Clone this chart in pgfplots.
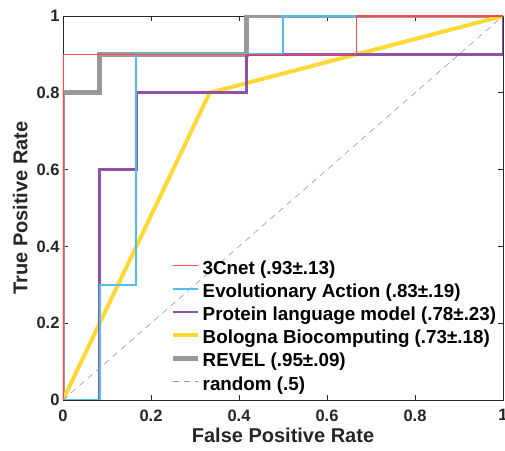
\documentclass[border=0pt]{standalone}
\usepackage{pgfplots}
\pgfplotsset{compat=1.18}
\usetikzlibrary{calc}
\usepackage{fontspec}
\setmainfont{Liberation Sans}
\definecolor{cred}{HTML}{FF4A4A}
\definecolor{ccyan}{HTML}{4DBEEE}
\definecolor{cpurple}{HTML}{9251A6}
\definecolor{cyellow}{HTML}{FFD835}
\definecolor{cgray}{HTML}{999999}
\definecolor{caxis}{HTML}{262626}

\begin{document}
\begin{tikzpicture}
\begin{axis}[
  name=ax,
  scale only axis, width=440pt, height=384pt,
  xmin=0, xmax=1, ymin=0, ymax=1,
  xtick={0,0.2,0.4,0.6,0.8,1}, ytick={0,0.2,0.4,0.6,0.8,1},
  xticklabels={0,0.2,0.4,0.6,0.8,1}, yticklabels={0,0.2,0.4,0.6,0.8,1},
  tick align=inside, major tick length=5pt,
  axis line style={caxis, line width=0.6pt},
  tick style={caxis, line width=0.6pt},
  tick label style={font=\fontsize{16.5}{19}\selectfont\bfseries, text=caxis},
  xticklabel style={yshift=-6pt},
  xlabel={False Positive Rate}, ylabel={True Positive Rate},
  label style={font=\fontsize{20}{22}\selectfont\bfseries, text=caxis},
  xlabel style={yshift=0pt}, ylabel style={yshift=2pt},
  legend cell align=left,
  legend style={draw=none, fill=none, at={(0.243,0.365)}, anchor=north west,
    font=\fontsize{18.8}{22}\selectfont\bfseries, row sep=0pt,
    inner sep=0pt, nodes={inner sep=0pt, text height=14pt, text depth=9.2pt},
    /tikz/every odd column/.append style={column sep=2.6pt}},
  legend image code/.code={\draw[#1] (0pt,6pt) -- (25pt,6pt);},
  clip=true,
]
% drawn bottom to top so that 3Cnet lies over the others
\addplot[cgray, line width=5pt, forget plot] coordinates {
  (0,0) (0,0.8) (0.0833,0.8) (0.0833,0.9) (0.4167,0.9) (0.4167,1) (1,1)};
\addplot[cyellow, line width=4pt, forget plot] coordinates {
  (0,0) (0.3333,0.8) (1,1)};
\addplot[cpurple, line width=2.8pt, forget plot] coordinates {
  (0,0) (0.0833,0) (0.0833,0.6) (0.1667,0.6) (0.1667,0.8) (0.4167,0.8)
  (0.4167,0.9) (1,0.9) (1,1)};
\addplot[ccyan, line width=2pt, forget plot] coordinates {
  (0,0) (0.0833,0) (0.0833,0.3) (0.1667,0.3) (0.1667,0.9) (0.5,0.9) (0.5,1) (1,1)};
\addplot[cred, line width=1.4pt, forget plot] coordinates {
  (0,0) (0,0.9) (0.6667,0.9) (0.6667,1) (1,1)};
\addplot[cgray, line width=0.6pt, dash pattern=on 6pt off 5pt, forget plot] coordinates {
  (0,0) (1,1)};
% legend entries
\addlegendimage{cred, line width=1.4pt}
\addlegendentry{3Cnet (.93±.13)}
\addlegendimage{ccyan, line width=2pt}
\addlegendentry{Evolutionary Action (.83±.19)}
\addlegendimage{cpurple, line width=2.8pt}
\addlegendentry{Protein language model (.78±.23)}
\addlegendimage{cyellow, line width=4pt}
\addlegendentry{Bologna Biocomputing (.73±.18)}
\addlegendimage{cgray, line width=5pt}
\addlegendentry{REVEL (.95±.09)}
\addlegendimage{cgray, line width=0.6pt, dash pattern=on 6pt off 5pt}
\addlegendentry{random (.5)}
\end{axis}
\pgfresetboundingbox
\path[use as bounding box] ($(ax.south west)+(-63pt,-51pt)$) rectangle ($(ax.north east)+(2pt,16pt)$);
\end{tikzpicture}
\end{document}
